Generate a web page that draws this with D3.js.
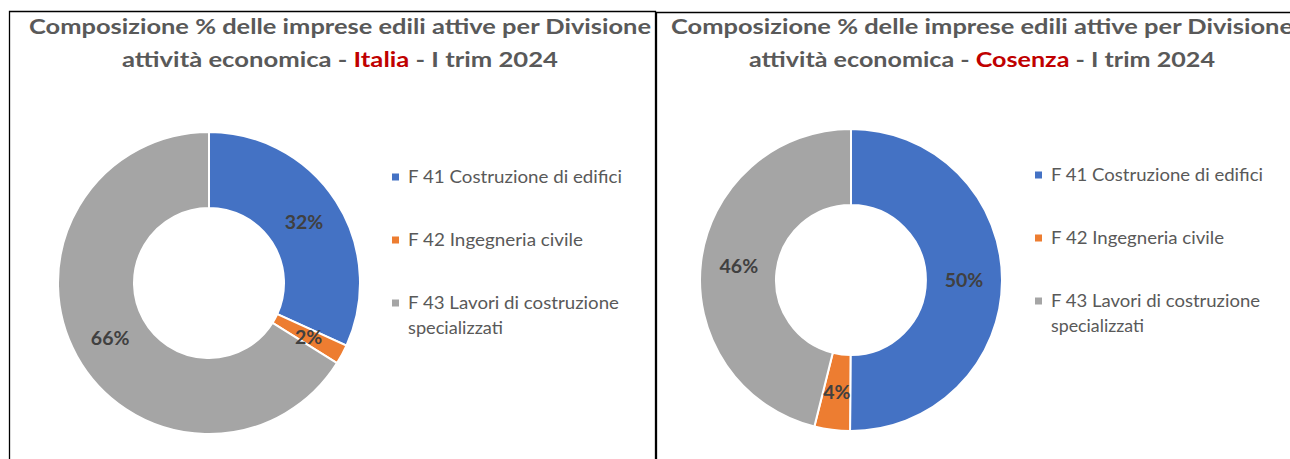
<!DOCTYPE html>
<html>
<head>
<meta charset="utf-8">
<script src="https://d3js.org/d3.v7.min.js"></script>
<style>
  body { margin: 0; background: #fff; }
  svg text { font-family: Lato, "Open Sans", sans-serif; }
</style>
</head>
<body>
<div id="chart"></div>
<script>
const width = 1290;
const height = 459;

const categories = ["F 41 Costruzione di edifici", "F 42 Ingegneria civile", "F 43 Lavori di costruzione specializzati"];
const legendLines = [["F 41 Costruzione di edifici"], ["F 42 Ingegneria civile"], ["F 43 Lavori di costruzione", "specializzati"]];
const colours = ["#4472C4", "#ED7D31", "#A5A5A5"];

const places = ["Italia", "Cosenza"];
const valuesItalia  = [31.8, 2.1, 66.1];
const valuesCosenza = [50.1, 3.8, 46.1];
const labelsItalia  = ["32%", "2%", "66%"];
const labelsCosenza = ["50%", "4%", "46%"];

const panels = [
  {place: places[0], values: valuesItalia, labels: labelsItalia,
   x0: 9.5, x1: 655.5, top: 11.5, cx: 209, cy: 283, tcx: 340, legX: 392, legY: 177, legW: [214, 175, 211, 95]},
  {place: places[1], values: valuesCosenza, labels: labelsCosenza,
   x0: 656.5, x1: 1300, top: 12.5, cx: 851, cy: 280, tcx: 982, legX: 1035, legY: 175, legW: [212, 173, 209, 93]}
];

const outerR = 151;
const innerR = 75;

const svg = d3.select("#chart").append("svg")
   .attr("width", width)
   .attr("height", height);

const pie = d3.pie().sort(null).value(d => d);
const arc = d3.arc().innerRadius(innerR).outerRadius(outerR);
const labelArc = d3.arc().innerRadius((innerR + outerR) / 2).outerRadius((innerR + outerR) / 2);

panels.forEach((p, pi) => {
   const g = svg.append("g");

   // frame
   g.append("path")
      .attr("d", `M${p.x0},${height + 2}V${p.top}H${p.x1}` + (pi == 0 ? `V${height + 2}` : ""))
      .attr("fill", "none")
      .attr("stroke", "#000")
      .attr("stroke-width", 1.3);

   // title
   g.append("text")
      .attr("x", p.tcx)
      .attr("y", 34)
      .attr("text-anchor", "middle")
      .attr("textLength", 622)
      .attr("lengthAdjust", "spacingAndGlyphs")
      .style("font-size", "21px")
      .style("font-weight", "bold")
      .style("fill", "#595959")
      .text("Composizione % delle imprese edili attive per Divisione");

   const t2 = g.append("text")
      .attr("x", p.tcx)
      .attr("y", 67)
      .attr("text-anchor", "middle")
      .attr("textLength", pi == 0 ? 436 : 466)
      .attr("lengthAdjust", "spacingAndGlyphs")
      .style("font-size", "21px")
      .style("font-weight", "bold")
      .style("fill", "#595959");
   t2.append("tspan").text("attività economica  - ");
   t2.append("tspan").style("fill", "#C00000").text(p.place);
   t2.append("tspan").text(" - I trim 2024");

   // donut
   const arcs = pie(p.values);
   const donut = g.append("g").attr("transform", `translate(${p.cx},${p.cy})`);

   donut.selectAll("path.slice")
      .data(arcs)
      .enter()
      .append("path")
      .attr("class", "slice")
      .attr("d", arc)
      .style("fill", (d, i) => colours[i])
      .style("stroke", "#fff")
      .style("stroke-width", 2);

   donut.selectAll("text.pct")
      .data(arcs)
      .enter()
      .append("text")
      .attr("class", "pct")
      .attr("transform", d => `translate(${labelArc.centroid(d)})`)
      .attr("text-anchor", "middle")
      .attr("dy", "0.36em")
      .style("font-size", "19.5px")
      .style("font-weight", "bold")
      .style("fill", "#404040")
      .text((d, i) => p.labels[i]);

   // legend
   const leg = g.selectAll("g.leg")
      .data(categories)
      .enter()
      .append("g")
      .attr("class", "leg")
      .attr("transform", (d, i) => `translate(${p.legX},${p.legY + i * 63})`);

   leg.append("rect")
      .attr("x", 0)
      .attr("y", -3.5)
      .attr("width", 7)
      .attr("height", 7)
      .style("fill", (d, i) => colours[i]);

   let w = 0;
   leg.each(function(d, i) {
      legendLines[i].forEach((line, j) => {
         d3.select(this).append("text")
            .attr("x", 16)
            .attr("y", j * 25)
            .attr("dy", "0.35em")
            .attr("textLength", p.legW[w++])
            .attr("lengthAdjust", "spacingAndGlyphs")
            .style("font-size", "16.5px")
            .style("fill", "#595959")
            .text(line);
      });
   });
});
</script>
</body>
</html>
